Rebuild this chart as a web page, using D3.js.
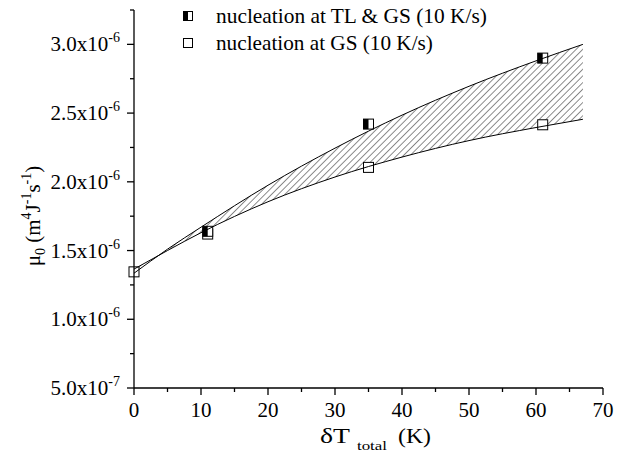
<!DOCTYPE html>
<html>
<head>
<meta charset="utf-8">
<script src="https://cdn.jsdelivr.net/npm/d3@7"></script>
<style>
  body { margin: 0; background: #fff; }
  svg text { font-family: "Liberation Serif", "Times New Roman", "DejaVu Serif", serif; }
</style>
</head>
<body>
<div id="chart"></div>
<script>
// ── data ──
const tlgsX = [11, 35, 61];
const tlgsY = [1.64e-6, 2.42e-6, 2.90e-6];
const gsX = [0, 11, 35, 61];
const gsY = [1.345e-6, 1.62e-6, 2.105e-6, 2.415e-6];

// fitted envelope, points
const curveX = [0, 5, 10, 20, 30, 40, 50, 60, 67];
const upperY = [1.335e-6, 1.51e-6, 1.67e-6, 1.975e-6, 2.245e-6, 2.485e-6, 2.695e-6, 2.88e-6, 3.0e-6];
const lowerY = [1.365e-6, 1.50e-6, 1.63e-6, 1.855e-6, 2.035e-6, 2.18e-6, 2.30e-6, 2.395e-6, 2.455e-6];

const xTicks = [0, 10, 20, 30, 40, 50, 60, 70];
const xMinor = [5, 15, 25, 35, 45, 55, 65];
const yTicks = [5e-7, 1e-6, 1.5e-6, 2e-6, 2.5e-6, 3e-6];
const yTickMant = ["5.0x10", "1.0x10", "1.5x10", "2.0x10", "2.5x10", "3.0x10"];
const yTickExp = ["-7", "-6", "-6", "-6", "-6", "-6"];
const yMinor = [7.5e-7, 1.25e-6, 1.75e-6, 2.25e-6, 2.75e-6, 3.25e-6];

const legendLabels = ["nucleation at TL & GS (10 K/s)", "nucleation at GS (10 K/s)"];
const legendWidths = [271, 217];

const W = 617, H = 461;
const M = { l: 134, r: 14, t: 10, b: 73 };

const svg = d3.select("#chart").append("svg")
  .attr("width", W).attr("height", H);

const x = d3.scaleLinear().domain([0, 70]).range([M.l, W - M.r]);
const y = d3.scaleLinear().domain([5e-7, 3.25e-6]).range([H - M.b, M.t]);

// stretch a text horizontally so it spans `target` px (serif font not always there)
function fitText(g, px, py, size, str, target) {
  const t = g.append("text").attr("x", 0).attr("y", 0).attr("font-size", size).text(str);
  const nat = t.node().getComputedTextLength() || target;
  t.attr("transform", `translate(${px},${py}) scale(${target / nat},1)`);
  return t;
}

// hatch pattern
const defs = svg.append("defs");
defs.append("pattern")
  .attr("id", "hatch")
  .attr("patternUnits", "userSpaceOnUse")
  .attr("width", 4.7).attr("height", 4.7)
  .attr("patternTransform", "rotate(45)")
  .append("line")
  .attr("x1", 0).attr("y1", 0).attr("x2", 0).attr("y2", 4.7)
  .attr("stroke", "#000").attr("stroke-width", 0.9);

const band = curveX.map((cx, i) => ({ x: cx, lo: lowerY[i], hi: upperY[i] }));

svg.append("path")
  .datum(band)
  .attr("fill", "url(#hatch)")
  .attr("d", d3.area().curve(d3.curveMonotoneX)
    .x(d => x(d.x)).y0(d => y(d.lo)).y1(d => y(d.hi)));

// markers
const S = 10;
function openSq(g, cx, cy, s) {
  g.append("rect").attr("x", cx - s / 2).attr("y", cy - s / 2)
    .attr("width", s).attr("height", s)
    .attr("fill", "#fff").attr("stroke", "#000").attr("stroke-width", 1);
}
function halfSq(g, cx, cy, s) {
  openSq(g, cx, cy, s);
  g.append("rect").attr("x", cx - s / 2).attr("y", cy - s / 2)
    .attr("width", s / 2).attr("height", s).attr("fill", "#000");
}
const mk = svg.append("g");
gsX.forEach((v, i) => openSq(mk, x(v), y(gsY[i]), S));
tlgsX.forEach((v, i) => halfSq(mk, x(v), y(tlgsY[i]), S));

// curve lines
["hi", "lo"].forEach(k => {
  svg.append("path")
    .datum(band)
    .attr("fill", "none").attr("stroke", "#000").attr("stroke-width", 1)
    .attr("d", d3.line().curve(d3.curveMonotoneX).x(d => x(d.x)).y(d => y(d[k])));
});

// axes
const ax = svg.append("g");
ax.append("line").attr("x1", x(0)).attr("x2", x(70))
  .attr("y1", y(5e-7)).attr("y2", y(5e-7)).attr("stroke", "#000").attr("stroke-width", 1.3);
ax.append("line").attr("x1", x(0)).attr("x2", x(0))
  .attr("y1", y(5e-7)).attr("y2", y(3.25e-6)).attr("stroke", "#000").attr("stroke-width", 1.3);

xTicks.forEach(t => {
  ax.append("line").attr("x1", x(t)).attr("x2", x(t))
    .attr("y1", y(5e-7)).attr("y2", y(5e-7) + 7).attr("stroke", "#000").attr("stroke-width", 1.3);
  ax.append("text").attr("x", x(t)).attr("y", y(5e-7) + 29)
    .attr("text-anchor", "middle").attr("font-size", 21).text(t);
});
xMinor.forEach(t => {
  ax.append("line").attr("x1", x(t)).attr("x2", x(t))
    .attr("y1", y(5e-7)).attr("y2", y(5e-7) + 4).attr("stroke", "#000").attr("stroke-width", 1.3);
});
yTicks.forEach((t, i) => {
  ax.append("line").attr("x1", x(0) - 7).attr("x2", x(0))
    .attr("y1", y(t)).attr("y2", y(t)).attr("stroke", "#000").attr("stroke-width", 1.3);
  const tx = ax.append("text").attr("x", x(0) - 14).attr("y", y(t) + 7)
    .attr("text-anchor", "end").attr("font-size", 21);
  tx.append("tspan").text(yTickMant[i]);
  tx.append("tspan").attr("font-size", 14).attr("dy", -9).text(yTickExp[i]);
});
yMinor.forEach(t => {
  ax.append("line").attr("x1", x(0) - 4).attr("x2", x(0))
    .attr("y1", y(t)).attr("y2", y(t)).attr("stroke", "#000").attr("stroke-width", 1.3);
});

// axis titles
const xtg = svg.append("g");
fitText(xtg, 320, 443, 21, "δT", 30);
fitText(xtg, 357, 450, 13, "total", 30);
fitText(xtg, 398, 443, 21, "(K)", 33);

const yt = svg.append("text")
  .attr("transform", "translate(40,216) rotate(-90)")
  .attr("text-anchor", "middle").attr("font-size", 21);
yt.append("tspan").text("μ");
yt.append("tspan").attr("font-size", 14).attr("dy", 5).text("0");
yt.append("tspan").attr("dy", -5).text(" (m");
yt.append("tspan").attr("font-size", 14).attr("dy", -9).text("4");
yt.append("tspan").attr("dy", 9).text("J");
yt.append("tspan").attr("font-size", 14).attr("dy", -9).text("-1");
yt.append("tspan").attr("dy", 9).text("s");
yt.append("tspan").attr("font-size", 14).attr("dy", -9).text("-1");
yt.append("tspan").attr("dy", 9).text(")");

// legend
const lg = svg.append("g");
legendLabels.forEach((lab, i) => {
  const cy = 16 + i * 27;
  if (i === 0) halfSq(lg, 188, cy, 9); else openSq(lg, 188, cy, 9);
  fitText(lg, 216, cy + 7, 21, lab, legendWidths[i]);
});
</script>
</body>
</html>
